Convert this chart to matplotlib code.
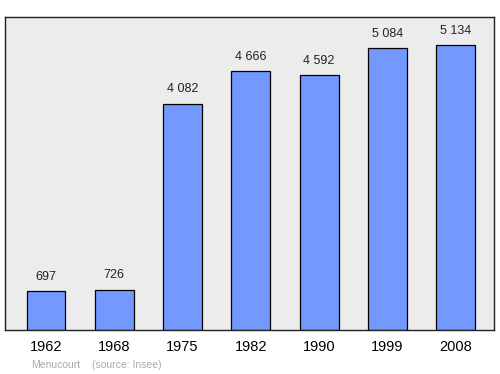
import matplotlib.pyplot as plt

years = ["1962", "1968", "1975", "1982", "1990", "1999", "2008"]
population = [697, 726, 4082, 4666, 4592, 5084, 5134]
value_labels = ["697", "726", "4 082", "4 666", "4 592", "5 084", "5 134"]

plt.rcParams['font.family'] = ['Liberation Sans', 'DejaVu Sans']

fig = plt.figure(figsize=(5, 3.74), dpi=100)
ax = fig.add_axes([0.01, 0.118, 0.978, 0.837])
ax.set_facecolor('#ececec')

x = range(len(years))
ax.bar(x, population, width=0.57, color='#7399ff', edgecolor='black', linewidth=0.9)

for i, (v, lab) in enumerate(zip(population, value_labels)):
    ax.annotate(lab, (i, v), xytext=(0, 6), textcoords='offset points',
                ha='center', va='bottom', fontsize=9, color='#222222')

ax.set_xlim(-0.6, 6.56)
ax.set_ylim(0, max(population) * 1.1)
ax.set_yticks([])
ax.set_xticks(list(x))
ax.set_xticklabels(years, fontsize=10.5)
ax.tick_params(axis='x', length=0, pad=7)
for s in ax.spines.values():
    s.set_linewidth(1.0)
    s.set_color('#222222')

fig.text(0.062, 0.024, "Menucourt", fontsize=7.5, color='#aaaaaa', ha='left', va='center')
fig.text(0.184, 0.024, "(source: Insee)", fontsize=7.5, color='#aaaaaa', ha='left', va='center')

fig.savefig("out.png", dpi=100)
